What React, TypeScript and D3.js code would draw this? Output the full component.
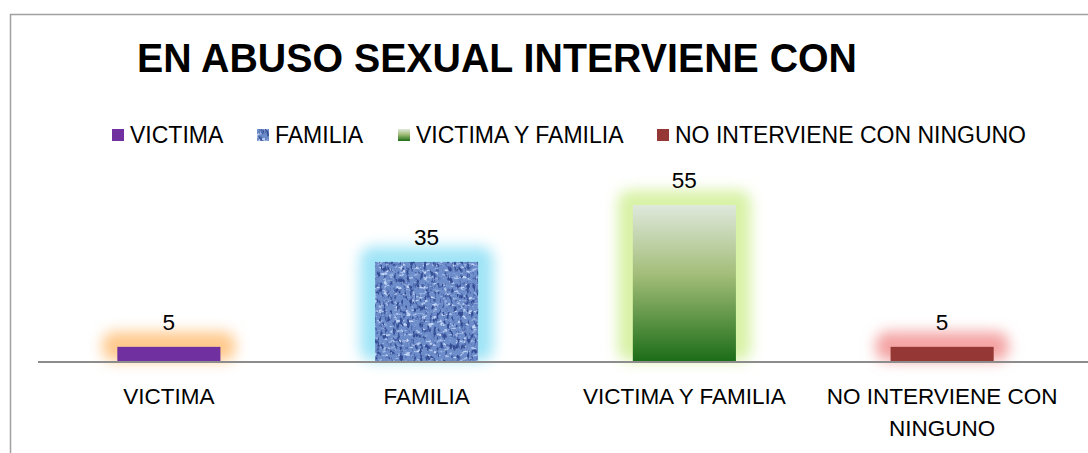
import React from 'react';
import * as d3 from 'd3';

const categories = ['VICTIMA', 'FAMILIA', 'VICTIMA Y FAMILIA', 'NO INTERVIENE CON NINGUNO'];
const values = [5, 35, 55, 5];
const axisLabels = [['VICTIMA'], ['FAMILIA'], ['VICTIMA Y FAMILIA'], ['NO INTERVIENE CON', 'NINGUNO']];
const fills = ['#7030a0', '#6d8cca', 'url(#greenGrad)', '#953735'];
const glows = ['#ffc98c', '#9fe4f7', '#d8f2a6', '#f4a3a3'];

const W = 1088;
const H = 453;
const FONT = '"Liberation Sans", Arial, sans-serif';

export default function App() {
  const x = d3.scaleBand().domain(categories).range([40, 1071]).paddingInner(0.6).paddingOuter(0.3);
  const y = d3.scaleLinear().domain([0, 60]).range([361, 191]);

  const legendX = [112, 257, 398, 657];

  return (
    <svg width={W} height={H} style={{ position: 'absolute', left: 0, top: 0, background: '#fff' }}>
      <defs>
        <linearGradient id="greenGrad" x1="0" y1="0" x2="0" y2="1">
          <stop offset="0" stopColor="#dfe8dc" />
          <stop offset="0.45" stopColor="#a2bd78" />
          <stop offset="1" stopColor="#1c6d17" />
        </linearGradient>
        <filter id="glow" x="-50%" y="-50%" width="200%" height="200%">
          <feGaussianBlur stdDeviation="7" />
        </filter>
        <filter id="fabric" x="0" y="0" width="100%" height="100%" colorInterpolationFilters="sRGB">
          <feTurbulence type="fractalNoise" baseFrequency="0.3 0.18" numOctaves="3" seed="3" result="n1" />
          <feColorMatrix in="n1" type="matrix"
            values="0 0 0 0 0.2  0 0 0 0 0.3  0 0 0 0 0.58  -5 0 0 0 2.45" result="dark" />
          <feTurbulence type="fractalNoise" baseFrequency="0.18 0.3" numOctaves="3" seed="11" result="n2" />
          <feColorMatrix in="n2" type="matrix"
            values="0 0 0 0 0.76  0 0 0 0 0.84  0 0 0 0 0.97  5 0 0 0 -2.75" result="light" />
          <feMerge result="m">
            <feMergeNode in="SourceGraphic" />
            <feMergeNode in="light" />
            <feMergeNode in="dark" />
          </feMerge>
          <feComposite in="m" in2="SourceGraphic" operator="in" />
        </filter>
      </defs>

      {/* chart frame */}
      <rect x={10.5} y={14.5} width={1200} height={600} fill="none" stroke="#a0a0a0" strokeWidth={1.5} />

      <text x={497} y={72} textAnchor="middle" fontFamily={FONT} fontWeight="bold" fontSize={40}
        textLength={720} lengthAdjust="spacingAndGlyphs">
        EN ABUSO SEXUAL INTERVIENE CON
      </text>

      {/* legend */}
      {categories.map((c, i) => (
        <g key={c} transform={`translate(${legendX[i]},135)`}>
          <rect x={0} y={-6} width={12} height={12} fill={fills[i]} filter={i === 1 ? 'url(#fabric)' : undefined} />
          <text x={18} y={8} fontFamily={FONT} fontSize={23} fill="#000">{c}</text>
        </g>
      ))}

      {/* bars */}
      {categories.map((c, i) => {
        const bx = x(c)!;
        const bw = x.bandwidth();
        const top = y(values[i]);
        const h = y(0) - top;
        return (
          <g key={c}>
            <rect x={bx - 15} y={top - 15} width={bw + 30} height={h + 15} rx={12}
              fill={glows[i]} filter="url(#glow)" />
            <rect x={bx} y={top} width={bw} height={h} fill={fills[i]} filter={i === 1 ? 'url(#fabric)' : undefined} />
            <text x={bx + bw / 2} y={top - 17} textAnchor="middle" fontFamily={FONT} fontSize={22.5}>{values[i]}</text>
          </g>
        );
      })}

      {/* axis baseline */}
      <line x1={38} x2={W} y1={y(0) + 1} y2={y(0) + 1} stroke="#8c8c8c" strokeWidth={2} />

      {categories.map((c, i) => (
        <text key={c} x={x(c)! + x.bandwidth() / 2} y={404} textAnchor="middle" fontFamily={FONT} fontSize={22.5}>
          {axisLabels[i].map((l, j) => (
            <tspan key={j} x={x(c)! + x.bandwidth() / 2} dy={j === 0 ? 0 : 32}>{l}</tspan>
          ))}
        </text>
      ))}
    </svg>
  );
}
